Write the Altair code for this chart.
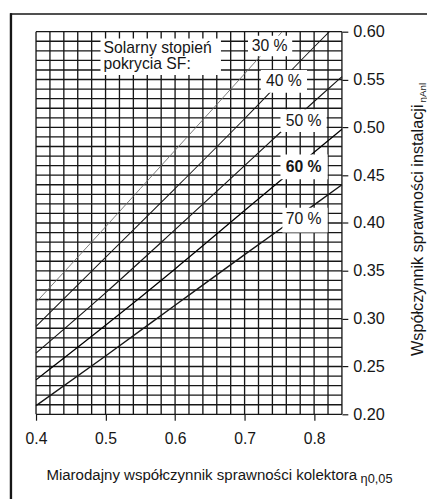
import altair as alt
import pandas as pd

FONT = "Liberation Sans"
INK = "#161616"

# ---- axes ----
x_domain = [0.40, 0.84]
y_domain = [0.20, 0.60]
x_ticks = [0.4, 0.5, 0.6, 0.7, 0.8]
y_ticks = [0.20, 0.25, 0.30, 0.35, 0.40, 0.45, 0.50, 0.55, 0.60]
grid_x = [0.40, 0.42, 0.44, 0.46, 0.48, 0.50, 0.52, 0.54, 0.56, 0.58, 0.60, 0.62,
          0.64, 0.66, 0.68, 0.70, 0.72, 0.74, 0.76, 0.78, 0.80, 0.82, 0.84]
grid_y = [round(0.20 + 0.01 * i, 2) for i in range(41)]

# ---- curves (solar fraction SF) ----
series = ["30 %", "40 %", "50 %", "60 %", "70 %"]
x30 = [0.40, 0.50, 0.60, 0.70, 0.754]
y30 = [0.317, 0.396, 0.476, 0.556, 0.600]
x40 = [0.40, 0.50, 0.60, 0.70, 0.80, 0.822]
y40 = [0.292, 0.364, 0.436, 0.509, 0.584, 0.600]
x50 = [0.40, 0.50, 0.60, 0.70, 0.80, 0.84]
y50 = [0.264, 0.327, 0.393, 0.460, 0.527, 0.553]
x60 = [0.40, 0.50, 0.60, 0.70, 0.80, 0.84]
y60 = [0.236, 0.293, 0.352, 0.413, 0.474, 0.498]
x70 = [0.40, 0.50, 0.60, 0.70, 0.80, 0.84]
y70 = [0.209, 0.261, 0.314, 0.367, 0.419, 0.440]

# ---- curve labels (data coordinates) ----
label_text = ["30 %", "40 %", "50 %", "60 %", "70 %"]
label_bold = [False, False, False, True, False]
label_x = [0.736, 0.7565, 0.7848, 0.7848, 0.7848]
label_y = [0.5849, 0.5483, 0.5069, 0.4581, 0.4041]
box_x1 = [0.7049, 0.7233, 0.7516, 0.7516, 0.7544]
box_x2 = [0.7685, 0.7898, 0.8181, 0.8195, 0.8195]
box_y1 = [0.5743, 0.5363, 0.4951, 0.4458, 0.3902]
box_y2 = [0.5959, 0.5599, 0.5188, 0.4715, 0.4159]

legend_lines = ["Solarny stopień", "pokrycia SF:"]
legend_x = 0.497
legend_y = [0.5774, 0.5609]
legend_box_x = [0.4927, 0.666]
legend_box_y = [0.5548, 0.5928]

x_title = "Miarodajny współczynnik sprawności kolektora"
x_title_sub = "η0,05"
y_title = "Współczynnik sprawności instalacji"
y_title_sub = "ηAnl"

# ---- tables ----
curve_rows = []
for name, xs_, ys_ in zip(series, [x30, x40, x50, x60, x70], [y30, y40, y50, y60, y70]):
    for a, b in zip(xs_, ys_):
        curve_rows.append({"sf": name, "x": a, "y": b})
curves_df = pd.DataFrame(curve_rows)

vgrid = pd.DataFrame({"gx": grid_x, "y0": y_domain[0], "y1": y_domain[1]})
hgrid = pd.DataFrame({"gy": grid_y, "x0": x_domain[0], "x1": x_domain[1]})
labels_df = pd.DataFrame({"t": label_text, "bold": label_bold, "lx": label_x, "ly": label_y,
                          "bx1": box_x1, "bx2": box_x2, "by1": box_y1, "by2": box_y2})
legend_df = pd.DataFrame({"t": legend_lines, "lx": legend_x, "ly": legend_y})
legend_box_df = pd.DataFrame({"bx1": [legend_box_x[0]], "bx2": [legend_box_x[1]],
                              "by1": [legend_box_y[0]], "by2": [legend_box_y[1]]})
one = pd.DataFrame({"k": [0]})

xs = alt.Scale(domain=x_domain, nice=False, zero=False)
ys = alt.Scale(domain=y_domain, nice=False, zero=False)

x_axis = alt.Axis(values=x_ticks, format=".1f", title=None, grid=False, domain=False,
                  tickSize=6, tickColor=INK, tickWidth=1.2, labelPadding=11,
                  labelFontSize=16, labelFont=FONT, labelColor=INK,
                  labelFlush=False, labelOverlap=False)
y_axis = alt.Axis(values=y_ticks, format=".2f", title=None, grid=False, domain=False,
                  orient="right", tickSize=6, tickColor=INK, tickWidth=1.2, labelPadding=5,
                  labelFontSize=16.5, labelFont=FONT, labelColor=INK,
                  labelFlush=False, labelOverlap=False)


def X(field):
    return alt.X(field, scale=xs, axis=x_axis, title=None)


def Y(field):
    return alt.Y(field, scale=ys, axis=y_axis, title=None)


vlines = alt.Chart(vgrid).mark_rule(color=INK, strokeWidth=1.35).encode(
    x=X("gx:Q"), y=Y("y0:Q"), y2="y1:Q")
hlines = alt.Chart(hgrid).mark_rule(color=INK, strokeWidth=1.35).encode(
    y=Y("gy:Q"), x=X("x0:Q"), x2="x1:Q")

curves = alt.Chart(curves_df).mark_line(interpolate="monotone").encode(
    x=X("x:Q"), y=Y("y:Q"),
    color=alt.Color("sf:N", scale=alt.Scale(domain=series,
                    range=["#6a6a6a", INK, INK, "#000000", INK]), legend=None),
    strokeWidth=alt.StrokeWidth("sf:N", scale=alt.Scale(domain=series,
                    range=[0.9, 1.4, 1.4, 2.1, 1.3]), legend=None),
)

boxes = alt.Chart(labels_df).mark_rect(color="white").encode(
    x=X("bx1:Q"), x2="bx2:Q", y=Y("by1:Q"), y2="by2:Q")
legend_box = alt.Chart(legend_box_df).mark_rect(color="white").encode(
    x=X("bx1:Q"), x2="bx2:Q", y=Y("by1:Q"), y2="by2:Q")

label_base = alt.Chart(labels_df).encode(x=X("lx:Q"), y=Y("ly:Q"), text="t:N")
labels_reg = label_base.transform_filter("!datum.bold").mark_text(
    font=FONT, fontSize=16, color=INK, align="center", baseline="middle")
labels_bold = label_base.transform_filter("datum.bold").mark_text(
    font=FONT, fontSize=16, fontWeight="bold", color=INK, align="center", baseline="middle")

legend_text = alt.Chart(legend_df).mark_text(
    font=FONT, fontSize=16, color=INK, align="left", baseline="alphabetic").encode(
    x=X("lx:Q"), y=Y("ly:Q"), text="t:N")

# axis titles (with subscripts) and the scanned page frame
xt = alt.Chart(one).mark_text(font=FONT, fontSize=15.3, color=INK, align="right",
                              baseline="alphabetic", text=x_title).encode(
    x=alt.value(326.5), y=alt.value(455.5))
xts = alt.Chart(one).mark_text(font=FONT, fontSize=13, color=INK, align="left",
                               baseline="alphabetic", text=x_title_sub).encode(
    x=alt.value(330), y=alt.value(458.5))
yt = alt.Chart(one).mark_text(font=FONT, fontSize=16.5, color=INK, align="right",
                              baseline="alphabetic", angle=270, text=y_title).encode(
    x=alt.value(393.5), y=alt.value(74))
yts = alt.Chart(one).mark_text(font=FONT, fontSize=10, color=INK, align="left",
                               baseline="alphabetic", angle=270, text=y_title_sub).encode(
    x=alt.value(396), y=alt.value(72))
frame_top = alt.Chart(one).mark_rule(color=INK, strokeWidth=1.6).encode(
    x=alt.value(-26.5), x2=alt.value(400), y=alt.value(-18))
frame_left = alt.Chart(one).mark_rule(color=INK, strokeWidth=2.4).encode(
    x=alt.value(-25.5), y=alt.value(-18.8), y2=alt.value(480))

chart = alt.layer(
    vlines, hlines, curves, boxes, legend_box, labels_reg, labels_bold, legend_text,
    xt, xts, yt, yts, frame_top, frame_left
).properties(
    width=311, height=389,
    autosize=alt.AutoSizeParams(type="none"),
    padding={"left": 28.5, "top": 20, "right": 86.5, "bottom": 82},
    background="white",
).configure_view(stroke=None)

chart.save("out.html", embed_options={"renderer": "svg", "actions": False})
